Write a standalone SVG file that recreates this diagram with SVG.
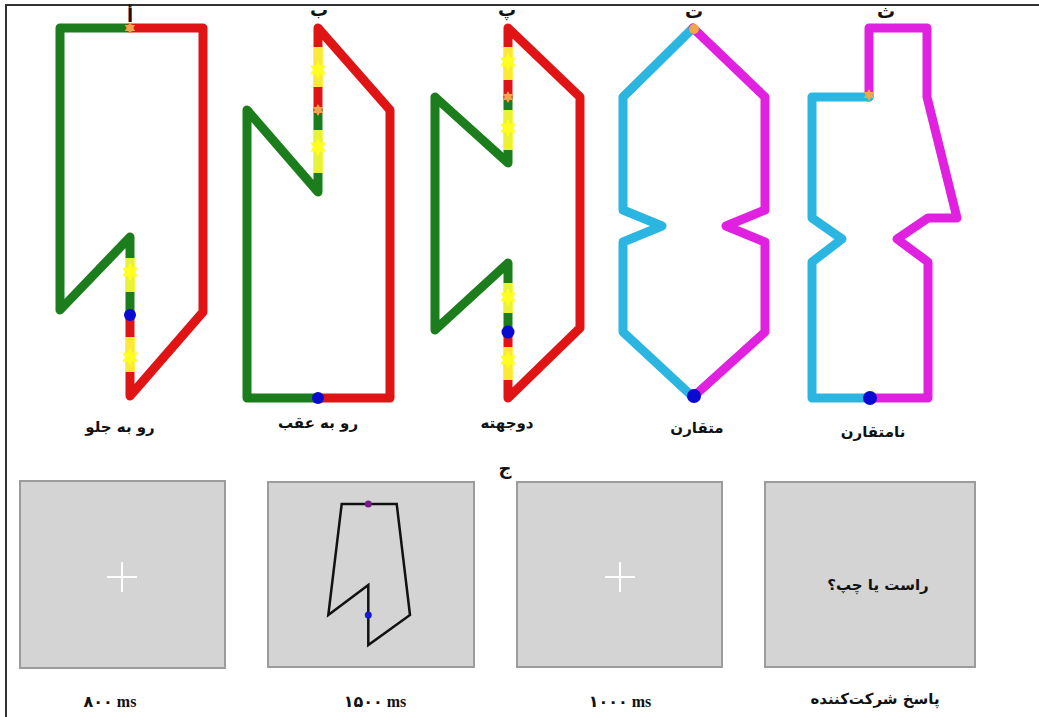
<svg xmlns="http://www.w3.org/2000/svg" xmlns:xlink="http://www.w3.org/1999/xlink" width="1039" height="717" viewBox="0 0 1039 717">
<style>
.ln{fill:none;stroke-width:9;stroke-linejoin:round;stroke-linecap:round}
.g{stroke:#1b7d1b}.r{stroke:#e01414}.c{stroke:#2bb6e2}.m{stroke:#e021e0}
.yb{fill:#ffff3a;opacity:0.9}
.ys{fill:#ffff20}
.os{fill:#f0a64a}
.bd{fill:#0a0ad0}
.lbl{font-family:"DejaVu Sans","Noto Sans",sans-serif;font-weight:bold;font-size:15px;fill:#111;text-anchor:middle}
.let{font-family:"DejaVu Sans","Noto Sans",sans-serif;font-weight:bold;font-size:18px;fill:#111;text-anchor:middle}
.ms{font-family:"Liberation Serif","DejaVu Sans",serif;font-weight:bold;font-size:16px;fill:#111;text-anchor:middle}
.box{fill:#d4d4d4;stroke:#9c9c9c;stroke-width:2}
.cross{stroke:#fff;stroke-width:2}
</style>
<defs>
<polygon id="star" points="0,-9 2.5,-4.33 7.79,-4.5 5,0 7.79,4.5 2.5,4.33 0,9 -2.5,4.33 -7.79,4.5 -5,0 -7.79,-4.5 -2.5,-4.33"/>
<polygon id="ostar" points="0,-6 1.7,-2.9 5.2,-3 3.3,0 5.2,3 1.7,2.9 0,6 -1.7,2.9 -5.2,3 -3.3,0 -5.2,-3 -1.7,-2.9"/>
</defs>
<rect x="0" y="0" width="1039" height="717" fill="#fff"/>
<g id="frame" stroke="#333" stroke-width="2">
<line x1="5" y1="5" x2="1039" y2="5"/>
<line x1="6" y1="5" x2="6" y2="717"/>
</g>

<g id="shape-a">
<path class="ln g" d="M130,28 H60 V310 L130,237 V315"/>
<path class="ln r" d="M130,28 H203 V312 L130,396 V315"/>
<rect class="yb" x="125" y="258" width="10" height="34"/>
<rect class="yb" x="125" y="337" width="10" height="35"/>
<use xlink:href="#star" class="ys" x="130" y="272"/>
<use xlink:href="#star" class="ys" x="130" y="357"/>
<use xlink:href="#ostar" class="os" x="130" y="28"/>
<circle class="bd" cx="130" cy="315" r="6"/>
<text class="let" x="130" y="22">أ</text>
<text class="lbl" x="120" y="432">رو به جلو</text>
</g>

<g id="shape-b">
<path class="ln g" d="M318,398 H247 V110 L318,192 V110"/>
<path class="ln r" d="M318,398 H390 V110 L318,28 V110"/>
<rect class="yb" x="313" y="47" width="10" height="40"/>
<rect class="yb" x="313" y="130" width="10" height="43"/>
<use xlink:href="#star" class="ys" x="318" y="70"/>
<use xlink:href="#star" class="ys" x="318" y="147"/>
<use xlink:href="#ostar" class="os" x="318" y="110"/>
<circle class="bd" cx="318" cy="398" r="6"/>
<text class="let" x="319" y="16">ب</text>
<text class="lbl" x="318" y="428">رو به عقب</text>
</g>

<g id="shape-p">
<path class="ln g" d="M508,97 V163 L435,97 V330 L508,263 V332"/>
<path class="ln r" d="M508,97 V28 L580,97 V328 L508,398 V332"/>
<rect class="yb" x="503" y="47" width="10" height="33"/>
<rect class="yb" x="503" y="110" width="10" height="40"/>
<rect class="yb" x="503" y="283" width="10" height="30"/>
<rect class="yb" x="503" y="347" width="10" height="33"/>
<use xlink:href="#star" class="ys" x="508" y="62"/>
<use xlink:href="#star" class="ys" x="508" y="128"/>
<use xlink:href="#star" class="ys" x="508" y="297"/>
<use xlink:href="#star" class="ys" x="508" y="360"/>
<use xlink:href="#ostar" class="os" x="508" y="97"/>
<circle class="bd" cx="508" cy="332" r="6.5"/>
<text class="let" x="507" y="16">پ</text>
<text class="lbl" x="507" y="428">دوجهته</text>
<text class="let" x="505" y="474">ج</text>
</g>

<g id="shape-t">
<path class="ln c" d="M693,28 L623,97 V210 L662,226 L623,242 V332 L693,397"/>
<path class="ln m" d="M693,28 L765,97 V210 L726,226 L765,242 V332 L693,397"/>
<circle class="os" cx="694" cy="29" r="5"/>
<circle class="bd" cx="694" cy="396" r="7"/>
<text class="let" x="694" y="18">ت</text>
<text class="lbl" x="697" y="433">متقارن</text>
</g>

<g id="shape-th">
<path class="ln m" d="M869,97 V28 H927 V97 L957,218 H928 L897,239 L928,262 V398 H870"/>
<path class="ln c" d="M869,97 H812 V218 L842,239 L812,262 V398 H870"/>
<use xlink:href="#ostar" class="os" x="869" y="95"/>
<circle class="bd" cx="870" cy="398" r="7"/>
<text class="let" x="886" y="18">ث</text>
<text class="lbl" x="873" y="437">نامتقارن</text>
</g>

<g id="box-1">
<rect class="box" x="20" y="481" width="205" height="187"/>
<line class="cross" x1="107" y1="577" x2="137" y2="577"/>
<line class="cross" x1="122" y1="562" x2="122" y2="592"/>
<text class="ms" x="110" y="707">۸۰۰ ms</text>
</g>

<g id="box-2">
<rect class="box" x="268" y="482" width="206" height="185"/>
<path d="M341.7,504 H396.7 L410,615 L368.3,645 V585 L328.3,615 Z" fill="none" stroke="#111" stroke-width="2.5" stroke-linejoin="miter"/>
<circle cx="368.3" cy="504" r="3.5" fill="#7a1a8a"/>
<circle cx="368.3" cy="615" r="3.5" fill="#1a1ad0"/>
<text class="ms" x="375" y="707">۱۵۰۰ ms</text>
</g>

<g id="box-3">
<rect class="box" x="517" y="482" width="205" height="185"/>
<line class="cross" x1="605" y1="577" x2="635" y2="577"/>
<line class="cross" x1="620" y1="562" x2="620" y2="592"/>
<text class="ms" x="620" y="707">۱۰۰۰ ms</text>
</g>

<g id="box-4">
<rect class="box" x="765" y="482" width="210" height="185"/>
<text class="lbl" x="878" y="590">راست یا چپ؟</text>
<text class="lbl" x="875" y="704">پاسخ شرکت‌کننده</text>
</g>
</svg>
